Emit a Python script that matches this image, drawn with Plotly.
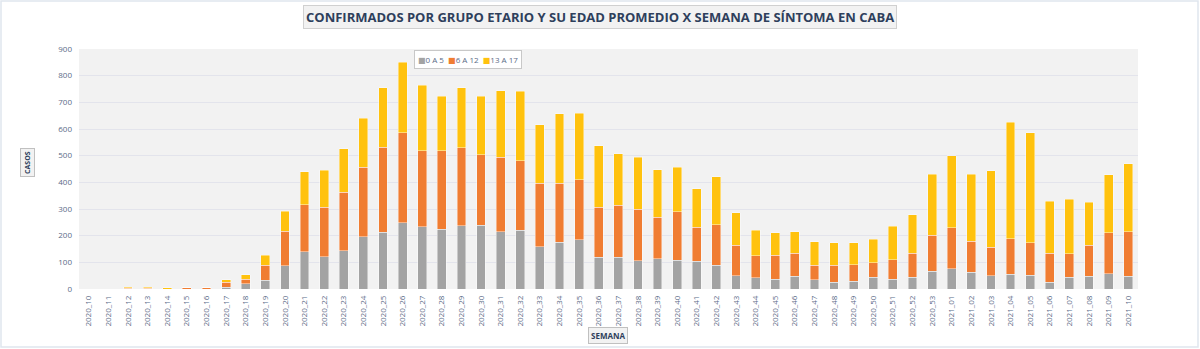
import plotly.graph_objects as go

semanas = [f"2020_{i:02d}" for i in range(10, 54)] + [f"2021_{i:02d}" for i in range(1, 11)]

g_0a5 = [0, 0, 0, 0, 0, 0, 0, 7, 19, 32, 87, 140, 121, 144, 196, 212, 249, 234, 224, 237,
         240, 215, 220, 159, 176, 185, 119, 119, 106, 114, 107, 104, 90, 50, 42, 37, 47, 35,
         26, 30, 45, 36, 45, 66, 76, 62, 50, 55, 52, 26, 45, 47, 57, 47]
g_6a12 = [0, 0, 2, 2, 0, 4, 4, 18, 17, 57, 129, 176, 186, 218, 261, 319, 337, 285, 295, 292,
          264, 279, 261, 238, 221, 225, 188, 195, 194, 155, 183, 128, 151, 114, 83, 90, 87, 55,
          63, 61, 54, 73, 90, 135, 153, 118, 106, 134, 122, 109, 87, 117, 154, 167]
g_13a17 = [0, 0, 4, 4, 4, 0, 0, 10, 18, 37, 75, 123, 139, 164, 184, 223, 265, 246, 203, 225,
           218, 250, 260, 219, 260, 250, 230, 193, 194, 178, 167, 144, 180, 122, 96, 84, 81, 87,
           85, 83, 87, 127, 144, 230, 271, 251, 288, 437, 412, 194, 204, 162, 218, 256]

nombres = ["0 A 5", "6 A 12", "13 A 17"]
colores = ["#a3a3a3", "#f07d32", "#ffc20e"]

fig = go.Figure()
for nombre, vals, col in zip(nombres, [g_0a5, g_6a12, g_13a17], colores):
    fig.add_trace(go.Bar(x=semanas, y=vals, name=nombre,
                         marker=dict(color=col, line=dict(color="rgba(255,255,255,0.7)", width=0.6))))

L, R, T, B = 79, 62, 49, 60
W, H = 1200, 349
pw, ph = W - L - R, H - T - B
FONT = "Open Sans, DejaVu Sans, sans-serif"
tick_font = dict(family=FONT, size=8, color="#5b6b87")

legend_text = "&nbsp;&nbsp;".join(
    f"<span style='color:{c}'>■</span>{n}" for n, c in zip(nombres, colores)
)

fig.update_layout(
    barmode="stack",
    bargap=0.55,
    width=W, height=H,
    margin=dict(l=L, r=R, t=T, b=B),
    paper_bgcolor="white",
    plot_bgcolor="#f2f2f2",
    showlegend=False,
    xaxis=dict(type="category", tickangle=-90, tickfont=tick_font, showgrid=False,
               ticks="", showline=False, automargin=False, ticklabelstandoff=4),
    yaxis=dict(range=[0, 900], dtick=100, tickfont=tick_font, gridcolor="#e3e4ec",
               gridwidth=1, zeroline=False, showline=False, ticks="", automargin=False,
               ticklabelstandoff=6),
    annotations=[
        dict(text="<b>CONFIRMADOS POR GRUPO ETARIO Y SU EDAD PROMEDIO X SEMANA DE SÍNTOMA EN CABA</b>",
             xref="paper", yref="paper", x=(600 - L) / pw, y=(H - B - 17) / ph,
             xanchor="center", yanchor="middle", showarrow=False,
             font=dict(family=FONT, size=13, color="#2e3f5c"),
             bgcolor="#f2f2f2", bordercolor="#d0d0d0", borderwidth=1, borderpad=2),
        dict(text="<b>CASOS</b>", xref="paper", yref="paper", x=(27 - L) / pw, y=(H - B - 163) / ph,
             xanchor="center", yanchor="middle", showarrow=False, textangle=-90,
             font=dict(family=FONT, size=7, color="#2e3f5c"),
             bgcolor="#f2f2f2", bordercolor="#c0c0c0", borderwidth=1, borderpad=2),
        dict(text="<b>SEMANA</b>", xref="paper", yref="paper", x=(608 - L) / pw, y=(H - B - 335) / ph,
             xanchor="center", yanchor="middle", showarrow=False,
             font=dict(family=FONT, size=8, color="#2e3f5c"),
             bgcolor="#f2f2f2", bordercolor="#c0c0c0", borderwidth=1, borderpad=2),
        dict(text=legend_text, xref="paper", yref="paper", x=(468 - L) / pw, y=(H - B - 60) / ph,
             xanchor="center", yanchor="middle", showarrow=False,
             font=dict(family=FONT, size=8, color="#5b6b87"),
             bgcolor="white", bordercolor="#c8c8c8", borderwidth=1, borderpad=3),
    ],
    shapes=[
        dict(type="rect", xref="paper", yref="paper",
             x0=(1 - L) / pw, x1=(W - 2 - L) / pw, y0=(H - B - 347) / ph, y1=(H - B - 1) / ph,
             line=dict(color="#e0e6ee", width=1.5), fillcolor="rgba(0,0,0,0)", layer="below"),
    ],
)

fig.write_html("out.html")
